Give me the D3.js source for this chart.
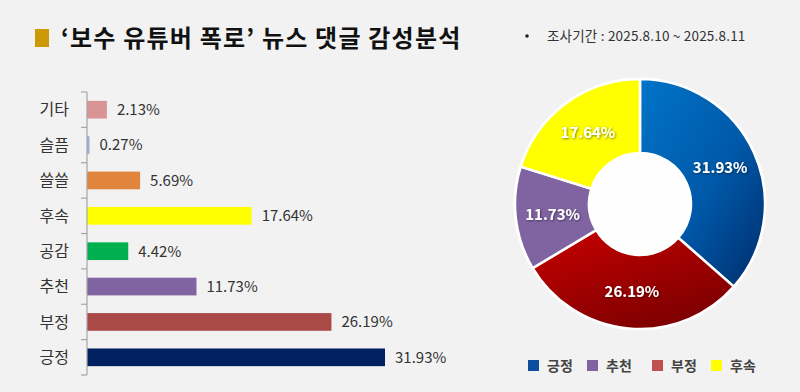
<!DOCTYPE html>
<html>
<head>
<meta charset="utf-8">
<script src="https://cdn.jsdelivr.net/npm/d3@7"></script>
<style>
  html, body { margin: 0; padding: 0; background: #f2f2f2; }
  svg { display: block; font-family: "Noto Sans CJK KR", "Noto Sans", sans-serif; }
</style>
</head>
<body>
<svg id="chart" width="800" height="392"></svg>
<script>
// bar chart (top to bottom)
const barCats   = ["기타", "슬픔", "쓸쓸", "후속", "공감", "추천", "부정", "긍정"];
const barValues = [2.13, 0.27, 5.69, 17.64, 4.42, 11.73, 26.19, 31.93];
const barColors = ["#d99594", "#95b3d7", "#e0853b", "#ffff00", "#00b050", "#8064a2", "#a94a47", "#002060"];

// donut (clockwise from 12 o'clock)
const pieCats   = ["긍정", "부정", "추천", "후속"];
const pieValues = [31.93, 26.19, 11.73, 17.64];

const legendCats   = ["긍정", "추천", "부정", "후속"];
const legendColors = ["#0b4f9e", "#8064a2", "#c0504d", "#ffff00"];

const titleText = "‘보수 유튜버 폭로’ 뉴스 댓글 감성분석";
const periodText = "조사기간 : 2025.8.10 ~ 2025.8.11";

const svg = d3.select("#chart");

// title
svg.append("rect").attr("x", 35).attr("y", 29).attr("width", 14).attr("height", 18).attr("fill", "#cc9a06");
svg.append("text").attr("x", 61).attr("y", 47)
    .attr("font-size", 24).attr("font-weight", 700).attr("fill", "#111")
    .attr("letter-spacing", 1.2)
    .text(titleText);

svg.append("circle").attr("cx", 527).attr("cy", 36).attr("r", 1.8).attr("fill", "#222");
svg.append("text").attr("x", 547).attr("y", 40.5)
    .attr("font-size", 13.5).attr("fill", "#333").attr("letter-spacing", 0.2)
    .text(periodText);

// ---- bar chart ----
const x = d3.scaleLinear().domain([0, 31.93]).range([87, 385]);
const y = d3.scaleBand().domain(barCats).range([92, 375]).paddingInner(0.5).paddingOuter(0.25);

const bars = svg.append("g");
bars.selectAll("rect").data(barCats).enter().append("rect")
    .attr("x", x(0))
    .attr("y", d => y(d))
    .attr("width", (d, i) => x(barValues[i]) - x(0))
    .attr("height", y.bandwidth())
    .attr("fill", (d, i) => barColors[i]);

bars.selectAll(".val").data(barCats).enter().append("text")
    .attr("class", "val")
    .attr("x", (d, i) => x(barValues[i]) + 10)
    .attr("y", d => y(d) + y.bandwidth() / 2)
    .attr("dy", "0.36em")
    .attr("font-size", 15).attr("fill", "#333")
    .text((d, i) => barValues[i].toFixed(2) + "%");

// axis with ticks at band boundaries
const axisG = svg.append("g");
axisG.append("line").attr("x1", 87).attr("x2", 87).attr("y1", 92).attr("y2", 375)
    .attr("stroke", "#a6a6a6").attr("stroke-width", 1.2);
d3.range(barCats.length + 1).forEach(i => {
    const ty = 92 + i * (283 / barCats.length);
    axisG.append("line").attr("x1", 81).attr("x2", 87).attr("y1", ty).attr("y2", ty)
        .attr("stroke", "#a6a6a6").attr("stroke-width", 1.2);
});
axisG.selectAll(".cat").data(barCats).enter().append("text")
    .attr("class", "cat")
    .attr("x", 69)
    .attr("y", d => y(d) + y.bandwidth() / 2)
    .attr("dy", "0.36em")
    .attr("text-anchor", "end")
    .attr("font-size", 16).attr("fill", "#333")
    .text(d => d);

// ---- donut ----
const defs = svg.append("defs");
const gBlue = defs.append("linearGradient").attr("id", "gBlue")
    .attr("x1", "0%").attr("y1", "0%").attr("x2", "100%").attr("y2", "100%");
gBlue.append("stop").attr("offset", "0%").attr("stop-color", "#0074c8");
gBlue.append("stop").attr("offset", "55%").attr("stop-color", "#0058a8");
gBlue.append("stop").attr("offset", "100%").attr("stop-color", "#002c6a");
const gRed = defs.append("linearGradient").attr("id", "gRed")
    .attr("x1", "0%").attr("y1", "0%").attr("x2", "60%").attr("y2", "100%");
gRed.append("stop").attr("offset", "0%").attr("stop-color", "#c80000");
gRed.append("stop").attr("offset", "100%").attr("stop-color", "#7e0000");
const shadow = defs.append("filter").attr("id", "tshadow").attr("x", "-20%").attr("y", "-40%").attr("width", "140%").attr("height", "180%");
shadow.append("feDropShadow").attr("dx", 0.8).attr("dy", 0.8).attr("stdDeviation", 0.8)
    .attr("flood-color", "#000").attr("flood-opacity", 0.55);

const pieFill = ["url(#gBlue)", "url(#gRed)", "#8064a2", "#ffff00"];
const pie = d3.pie().sort(null).value(d => d)(pieValues);
const arc = d3.arc().innerRadius(51).outerRadius(125);

const donut = svg.append("g").attr("transform", "translate(640,204)");
donut.append("circle").attr("r", 126.5).attr("fill", "#fff").attr("opacity", 0.9);
donut.selectAll("path").data(pie).enter().append("path")
    .attr("d", arc)
    .attr("fill", (d, i) => pieFill[i])
    .attr("stroke", "#fff").attr("stroke-width", 2.5);
donut.selectAll(".plab").data(pie).enter().append("text")
    .attr("class", "plab")
    .attr("transform", d => `translate(${arc.centroid(d)})`)
    .attr("dy", "0.36em")
    .attr("text-anchor", "middle")
    .attr("font-size", 15).attr("font-weight", 700).attr("fill", "#fff")
    .attr("filter", "url(#tshadow)")
    .text((d, i) => pieValues[i].toFixed(2) + "%");

// legend
const legendX = [528, 587, 652, 711];
const legend = svg.append("g");
legendCats.forEach((c, i) => {
    legend.append("rect").attr("x", legendX[i]).attr("y", 360).attr("width", 11).attr("height", 11)
        .attr("fill", legendColors[i]);
    legend.append("text").attr("x", legendX[i] + 19).attr("y", 370.5)
        .attr("font-size", 14).attr("font-weight", 700).attr("fill", "#444")
        .text(c);
});
</script>
</body>
</html>
